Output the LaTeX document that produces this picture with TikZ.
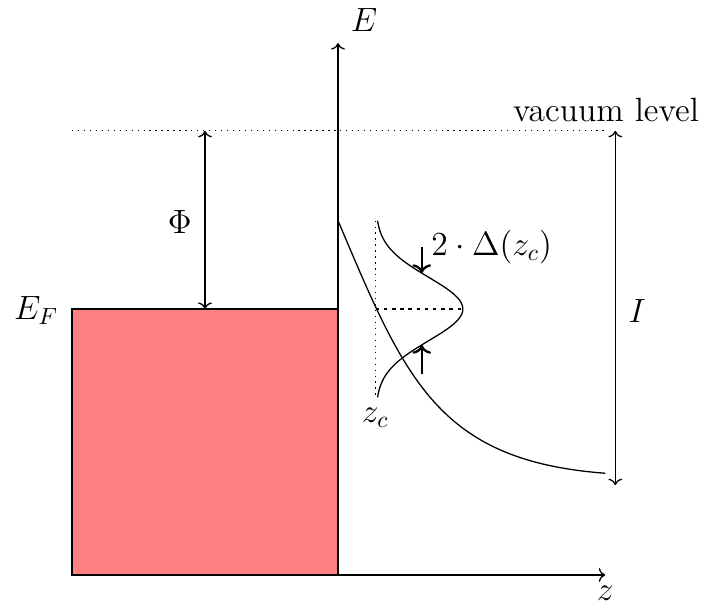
\documentclass[tikz,border=0pt]{standalone}
\usetikzlibrary{arrows.meta}
\begin{document}
\begin{tikzpicture}[
  line width=0.55pt,
  lbl/.style={font=\Large, inner sep=0pt},
  axis/.style={->},
  dim/.style={<->},
  marker/.style={->, line width=1pt}
]
\useasboundingbox (-5.083,-0.436) rectangle (5.504,8.647);
% coordinates
\coordinate (O) at (0,0);
\coordinate (Etop) at (0,8);
\coordinate (zend) at (4.02,0);
\coordinate (vacL) at (-4,6.68);
\coordinate (vacR) at (4.05,6.68);
\coordinate (phiT) at (-2,6.68);
\coordinate (phiB) at (-2,4);
\coordinate (iT) at (4.17,6.68);
\coordinate (iB) at (4.17,1.35);
\coordinate (zcT) at (0.567,5.33);
\coordinate (zcB) at (0.567,2.67);
\coordinate (pk) at (1.88,4);
\coordinate (zcM) at (0.567,4);
\coordinate (a1s) at (1.26,4.93);
\coordinate (a1e) at (1.26,4.54);
\coordinate (a2s) at (1.26,3.03);
\coordinate (a2e) at (1.26,3.46);
\coordinate (cS) at (0,5.33);
\coordinate (cE) at (4.02,1.53);
% metal block
\path[fill=red!50, draw=black] (-4,0) rectangle (0,4);
% axes
\draw[axis] (O) -- (Etop);
\draw[axis] (-4,0) -- (zend);
% vacuum level
\draw[dotted] (vacL) -- (vacR);
% Phi and I arrows
\draw[dim] (phiT) -- (phiB);
\draw[dim] (iT) -- (iB);
% potential curve
\draw (cS) .. controls (1.01,2.94) and (1.5,1.72) .. (cE);
% gaussian
\draw plot[domain=2.67:5.33, samples=100, smooth] ({0.567+1.31*exp(-((\x-4)*(\x-4))/(2*0.478*0.478))}, \x);
\draw[dotted] (zcT) -- (zcB);
\draw[dash pattern=on 1.5pt off 2pt] (zcM) -- (pk);
% width markers
\draw[marker] (a1s) -- (a1e);
\draw[marker] (a2s) -- (a2e);
% labels
\node[lbl] (lE) at (0.39,8.35) {$E$};
\node[lbl] (lz) at (4.02,-0.27) {$z$};
\node[lbl] (lvac) at (4.03,7.0) {vacuum level};
\node[lbl] (lphi) at (-2.38,5.31) {$\Phi$};
\node[lbl] (lEF) at (-4.54,3.98) {$E_F$};
\node[lbl] (lI) at (4.5,3.97) {$I$};
\node[lbl] (lzc) at (0.56,2.36) {$z_c$};
\node[lbl] (lD) at (2.31,4.93) {$2\cdot\Delta(z_c)$};
\end{tikzpicture}
\end{document}
